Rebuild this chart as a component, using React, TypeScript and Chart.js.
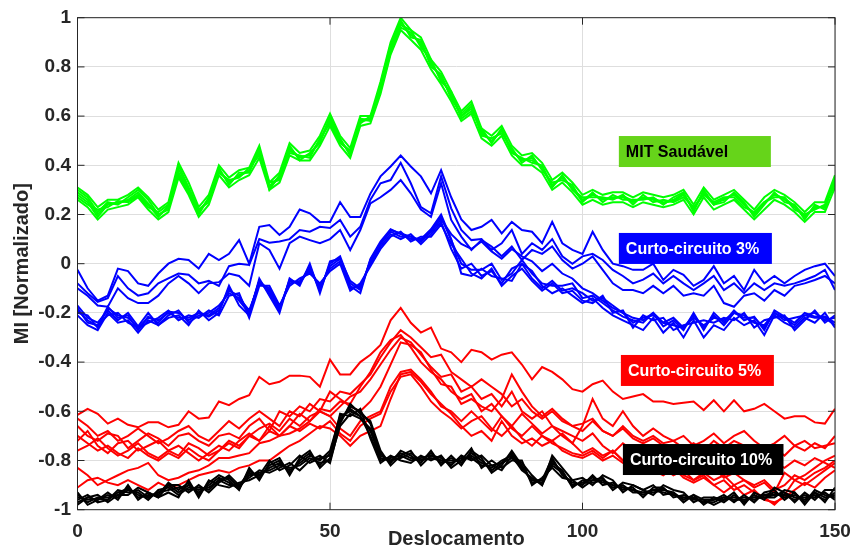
import React, { useEffect, useRef } from "react";
import { Chart, registerables } from "chart.js";

Chart.register(...registerables);

// Deslocamento (x) sample positions
const xValues = [
  0, 2, 4, 6, 8, 10, 12, 14, 16, 18,
  20, 22, 24, 26, 28, 30, 32, 34, 36, 38,
  40, 42, 44, 46, 48, 50, 52, 54, 56, 58,
  60, 62, 64, 66, 68, 70, 72, 74, 76, 78,
  80, 82, 84, 86, 88, 90, 92, 94, 96, 98,
  100, 102, 104, 106, 108, 110, 112, 114, 116, 118,
  120, 122, 124, 126, 128, 130, 132, 134, 136, 138,
  140, 142, 144, 146, 148, 150,
];

// MIT Saudável (green)
const greenA = [
  0.29, 0.26, 0.2, 0.245, 0.245, 0.26, 0.29, 0.245, 0.195, 0.23,
  0.385, 0.305, 0.215, 0.26, 0.38, 0.33, 0.36, 0.375, 0.46, 0.315,
  0.355, 0.47, 0.43, 0.445, 0.5, 0.59, 0.5, 0.45, 0.58, 0.585,
  0.72, 0.88, 0.98, 0.93, 0.9, 0.81, 0.76, 0.68, 0.6, 0.64,
  0.53, 0.5, 0.54, 0.46, 0.42, 0.43, 0.39, 0.32, 0.35, 0.31,
  0.26, 0.285, 0.26, 0.27, 0.27, 0.25, 0.27, 0.26, 0.245, 0.26,
  0.285, 0.22, 0.29, 0.245, 0.26, 0.285, 0.245, 0.2, 0.245, 0.285,
  0.26, 0.23, 0.19, 0.23, 0.23, 0.34,
];
const greenB = [
  0.27, 0.24, 0.22, 0.23, 0.255, 0.25, 0.275, 0.23, 0.21, 0.24,
  0.36, 0.29, 0.2, 0.27, 0.37, 0.34, 0.35, 0.39, 0.44, 0.33,
  0.34, 0.45, 0.44, 0.43, 0.51, 0.57, 0.49, 0.46, 0.57, 0.6,
  0.7, 0.86, 0.97, 0.95, 0.88, 0.83, 0.74, 0.7, 0.59, 0.62,
  0.55, 0.49, 0.55, 0.45, 0.43, 0.41, 0.4, 0.31, 0.36, 0.3,
  0.27, 0.27, 0.27, 0.26, 0.28, 0.24, 0.28, 0.25, 0.26, 0.25,
  0.27, 0.23, 0.28, 0.25, 0.27, 0.27, 0.23, 0.21, 0.25, 0.27,
  0.27, 0.22, 0.2, 0.22, 0.24, 0.32,
];
const greenC = [
  0.3, 0.27, 0.21, 0.25, 0.24, 0.27, 0.3, 0.26, 0.2, 0.22,
  0.4, 0.31, 0.22, 0.25, 0.39, 0.32, 0.37, 0.37, 0.47, 0.3,
  0.36, 0.48, 0.42, 0.45, 0.49, 0.6, 0.51, 0.44, 0.59, 0.58,
  0.73, 0.89, 0.99, 0.92, 0.91, 0.8, 0.77, 0.67, 0.61, 0.65,
  0.52, 0.51, 0.53, 0.47, 0.41, 0.44, 0.38, 0.33, 0.34, 0.32,
  0.25, 0.29, 0.25, 0.28, 0.26, 0.26, 0.26, 0.27, 0.24, 0.27,
  0.29, 0.21, 0.3, 0.24, 0.25, 0.29, 0.25, 0.19, 0.24, 0.29,
  0.25, 0.24, 0.18, 0.24, 0.22, 0.35,
];
const greenD = [
  0.28, 0.25, 0.19, 0.24, 0.25, 0.255, 0.28, 0.24, 0.19, 0.235,
  0.37, 0.3, 0.21, 0.265, 0.375, 0.335, 0.355, 0.38, 0.45, 0.31,
  0.35, 0.46, 0.435, 0.44, 0.5, 0.58, 0.495, 0.455, 0.585, 0.59,
  0.71, 0.87, 0.96, 0.94, 0.89, 0.82, 0.75, 0.69, 0.6, 0.63,
  0.54, 0.495, 0.545, 0.455, 0.425, 0.42, 0.395, 0.315, 0.355, 0.305,
  0.255, 0.28, 0.265, 0.265, 0.275, 0.255, 0.265, 0.265, 0.25, 0.255,
  0.28, 0.225, 0.285, 0.24, 0.265, 0.28, 0.24, 0.205, 0.25, 0.28,
  0.265, 0.235, 0.195, 0.225, 0.235, 0.33,
];
const greenE = [
  0.31, 0.28, 0.23, 0.26, 0.26, 0.28, 0.31, 0.27, 0.22, 0.25,
  0.41, 0.33, 0.23, 0.28, 0.4, 0.35, 0.38, 0.39, 0.48, 0.33,
  0.37, 0.49, 0.45, 0.46, 0.52, 0.61, 0.52, 0.47, 0.6, 0.6,
  0.74, 0.9, 1.0, 0.95, 0.92, 0.83, 0.78, 0.7, 0.62, 0.66,
  0.55, 0.52, 0.56, 0.48, 0.44, 0.45, 0.41, 0.34, 0.37, 0.33,
  0.28, 0.3, 0.28, 0.29, 0.29, 0.27, 0.29, 0.28, 0.27, 0.28,
  0.3, 0.24, 0.31, 0.26, 0.28, 0.3, 0.26, 0.22, 0.27, 0.3,
  0.28, 0.25, 0.21, 0.25, 0.25, 0.36,
];
const greenF = [
  0.26, 0.23, 0.18, 0.22, 0.23, 0.24, 0.27, 0.22, 0.18, 0.21,
  0.35, 0.28, 0.19, 0.24, 0.36, 0.31, 0.34, 0.36, 0.43, 0.3,
  0.33, 0.44, 0.42, 0.42, 0.48, 0.56, 0.48, 0.43, 0.56, 0.57,
  0.69, 0.85, 0.95, 0.91, 0.87, 0.79, 0.73, 0.66, 0.58, 0.61,
  0.51, 0.48, 0.52, 0.44, 0.4, 0.4, 0.37, 0.3, 0.33, 0.29,
  0.24, 0.26, 0.24, 0.25, 0.25, 0.23, 0.25, 0.24, 0.23, 0.24,
  0.26, 0.2, 0.27, 0.22, 0.24, 0.26, 0.22, 0.18, 0.22, 0.26,
  0.24, 0.21, 0.17, 0.21, 0.21, 0.31,
];

// Curto-circuito 3% (blue), upper bundle
const blueHighA = [
  -0.025, -0.1, -0.15, -0.13, -0.02, -0.03, -0.08, -0.09, -0.04, 0.0,
  0.02, 0.015, -0.02, 0.04, 0.015, 0.04, 0.096, 0.0, 0.15, 0.157,
  0.117, 0.15, 0.22, 0.205, 0.17, 0.17, 0.25, 0.19, 0.19, 0.285,
  0.355, 0.395, 0.44, 0.395, 0.355, 0.286, 0.38, 0.27, 0.18, 0.137,
  0.15, 0.178, 0.123, 0.17, 0.137, 0.13, 0.083, 0.17, 0.083, 0.056,
  0.04, 0.13, 0.056, 0.0, -0.01, -0.025, -0.025, 0.0, -0.066, -0.025,
  -0.045, -0.09, -0.066, -0.01, -0.08, -0.05, -0.107, -0.025, -0.08, -0.05,
  -0.08, -0.05, -0.025, -0.01, 0.0, -0.05,
];
const blueHighB = [
  -0.08, -0.12, -0.155, -0.14, -0.05, -0.1, -0.13, -0.12, -0.08, -0.06,
  -0.04, -0.045, -0.08, -0.07, -0.09, -0.01, 0.0, -0.005, 0.1, 0.085,
  0.09, 0.1, 0.137, 0.13, 0.15, 0.145, 0.178, 0.11, 0.15, 0.26,
  0.327, 0.34, 0.41, 0.327, 0.23, 0.205, 0.355, 0.225, 0.137, 0.096,
  0.1, 0.056, 0.083, 0.137, 0.04, 0.083, 0.056, 0.1, 0.03, 0.0,
  0.03, 0.04, 0.015, -0.025, -0.05, -0.08, -0.065, -0.04, -0.08, -0.05,
  -0.08, -0.107, -0.08, -0.05, -0.107, -0.08, -0.12, -0.08, -0.107, -0.08,
  -0.09, -0.08, -0.066, -0.05, -0.025, -0.107,
];
const blueHighC = [
  -0.1, -0.13, -0.17, -0.175, -0.1, -0.14, -0.16, -0.16, -0.13, -0.08,
  -0.05, -0.08, -0.12, -0.08, -0.075, -0.04, -0.05, -0.09, 0.083, 0.056,
  -0.02, 0.083, 0.11, 0.096, 0.083, 0.1, 0.137, 0.056, 0.137, 0.245,
  0.27, 0.3, 0.34, 0.286, 0.22, 0.19, 0.327, 0.178, 0.11, 0.056,
  0.096, 0.07, 0.03, 0.07, 0.015, 0.056, 0.04, 0.07, 0.015, -0.02,
  0.0, 0.03, -0.025, -0.08, -0.107, -0.107, -0.12, -0.09, -0.12, -0.09,
  -0.13, -0.12, -0.13, -0.09, -0.16, -0.175, -0.13, -0.12, -0.15, -0.107,
  -0.13, -0.09, -0.08, -0.066, -0.05, -0.08,
];
// Curto-circuito 3% (blue), lower bundle
const blueLowA = [
  -0.19, -0.23, -0.255, -0.175, -0.22, -0.21, -0.27, -0.215, -0.24, -0.195,
  -0.2, -0.23, -0.2, -0.215, -0.19, -0.1, -0.15, -0.2, -0.07, -0.12,
  -0.19, -0.065, -0.08, -0.01, -0.11, 0.0, 0.03, -0.08, -0.107, 0.015,
  0.083, 0.137, 0.123, 0.11, 0.096, 0.137, 0.19, 0.096, 0.0, -0.025,
  -0.025, 0.0, -0.066, -0.04, 0.015, -0.04, -0.08, -0.09, -0.09, -0.08,
  -0.14, -0.13, -0.16, -0.19, -0.215, -0.23, -0.24, -0.2, -0.255, -0.23,
  -0.27, -0.2, -0.27, -0.2, -0.24, -0.19, -0.23, -0.215, -0.27, -0.19,
  -0.215, -0.24, -0.2, -0.215, -0.215, -0.24,
];
const blueLowB = [
  -0.17, -0.22, -0.24, -0.19, -0.23, -0.2, -0.255, -0.2, -0.25, -0.21,
  -0.19, -0.24, -0.21, -0.2, -0.17, -0.12, -0.14, -0.19, -0.08, -0.1,
  -0.18, -0.08, -0.07, -0.03, -0.09, -0.02, 0.01, -0.1, -0.09, 0.0,
  0.07, 0.12, 0.1, 0.12, 0.08, 0.12, 0.17, 0.06, -0.02, 0.0,
  -0.05, -0.03, -0.08, -0.02, 0.0, -0.06, -0.1, -0.07, -0.11, -0.1,
  -0.12, -0.15, -0.14, -0.17, -0.2, -0.24, -0.22, -0.21, -0.24, -0.25,
  -0.26, -0.22, -0.25, -0.22, -0.23, -0.2, -0.21, -0.24, -0.25, -0.2,
  -0.23, -0.22, -0.21, -0.2, -0.23, -0.22,
];
const blueLowC = [
  -0.21, -0.25, -0.27, -0.2, -0.24, -0.23, -0.28, -0.23, -0.25, -0.22,
  -0.21, -0.25, -0.19, -0.23, -0.2, -0.09, -0.17, -0.21, -0.06, -0.13,
  -0.2, -0.06, -0.09, 0.0, -0.12, 0.01, 0.02, -0.09, -0.12, 0.02,
  0.09, 0.14, 0.12, 0.1, 0.1, 0.14, 0.2, 0.1, -0.04, -0.05,
  -0.02, -0.05, -0.06, -0.07, 0.0, -0.03, -0.09, -0.12, -0.1, -0.13,
  -0.16, -0.14, -0.18, -0.21, -0.23, -0.25, -0.27, -0.22, -0.28, -0.24,
  -0.3, -0.23, -0.3, -0.25, -0.27, -0.22, -0.25, -0.23, -0.29, -0.21,
  -0.24, -0.26, -0.22, -0.24, -0.2, -0.26,
];
const blueLowD = [
  -0.2, -0.21, -0.26, -0.18, -0.21, -0.22, -0.26, -0.22, -0.23, -0.2,
  -0.22, -0.22, -0.2, -0.21, -0.18, -0.11, -0.13, -0.2, -0.07, -0.11,
  -0.18, -0.07, -0.08, -0.02, -0.1, -0.01, 0.02, -0.07, -0.1, 0.01,
  0.08, 0.13, 0.11, 0.11, 0.09, 0.13, 0.18, 0.12, 0.08, 0.06,
  0.09, 0.05, 0.02, 0.06, 0.03, 0.01, -0.03, 0.0, -0.04, -0.06,
  -0.1, -0.12, -0.15, -0.18, -0.2, -0.22, -0.23, -0.2, -0.24, -0.22,
  -0.26, -0.21, -0.26, -0.21, -0.25, -0.2, -0.22, -0.22, -0.26, -0.2,
  -0.22, -0.25, -0.21, -0.22, -0.22, -0.25,
];
const blueLowE = [
  -0.18, -0.24, -0.25, -0.21, -0.2, -0.24, -0.26, -0.24, -0.22, -0.19,
  -0.23, -0.21, -0.22, -0.19, -0.21, -0.13, -0.12, -0.22, -0.09, -0.09,
  -0.17, -0.09, -0.06, -0.04, -0.08, -0.03, 0.0, -0.11, -0.08, -0.01,
  0.06, 0.11, 0.13, 0.09, 0.11, 0.11, 0.16, 0.08, 0.02, -0.04,
  -0.06, -0.02, -0.09, -0.05, -0.02, -0.07, -0.11, -0.08, -0.12, -0.11,
  -0.15, -0.16, -0.13, -0.2, -0.19, -0.26, -0.21, -0.23, -0.22, -0.27,
  -0.25, -0.24, -0.23, -0.24, -0.22, -0.23, -0.2, -0.26, -0.23, -0.22,
  -0.21, -0.27, -0.23, -0.19, -0.24, -0.21,
];

// Curto-circuito 5% (red)
const redA = [
  -0.615, -0.59, -0.61, -0.65, -0.63, -0.655, -0.665, -0.645, -0.645, -0.665,
  -0.655, -0.6, -0.63, -0.625, -0.56, -0.575, -0.55, -0.535, -0.46, -0.49,
  -0.48, -0.455, -0.455, -0.46, -0.5, -0.39, -0.45, -0.45, -0.4, -0.37,
  -0.33, -0.23, -0.18, -0.24, -0.28, -0.26, -0.345, -0.36, -0.4, -0.35,
  -0.36, -0.39, -0.37, -0.36, -0.41, -0.47, -0.42, -0.44, -0.47, -0.51,
  -0.52, -0.49, -0.475, -0.52, -0.55, -0.54, -0.53, -0.56, -0.56, -0.57,
  -0.565, -0.56, -0.595, -0.555, -0.6, -0.555, -0.6, -0.59, -0.57, -0.6,
  -0.63, -0.62, -0.62, -0.645, -0.65, -0.59,
];
const redB = [
  -0.66, -0.7, -0.72, -0.69, -0.7, -0.75, -0.72, -0.69, -0.71, -0.74,
  -0.7, -0.69, -0.72, -0.74, -0.7, -0.69, -0.71, -0.66, -0.63, -0.68,
  -0.6, -0.62, -0.58, -0.6, -0.55, -0.56, -0.52, -0.53, -0.49, -0.45,
  -0.38, -0.32, -0.27, -0.3, -0.34, -0.38, -0.37, -0.44, -0.47, -0.5,
  -0.47, -0.5, -0.53, -0.58, -0.55, -0.6, -0.63, -0.6, -0.64, -0.66,
  -0.65, -0.63, -0.68, -0.7, -0.66, -0.7, -0.72, -0.7, -0.73, -0.72,
  -0.75, -0.73, -0.76, -0.72, -0.75, -0.72, -0.74, -0.76, -0.77, -0.75,
  -0.78, -0.74, -0.76, -0.73, -0.75, -0.7,
];
const redC = [
  -0.72, -0.68, -0.74, -0.77, -0.73, -0.72, -0.76, -0.74, -0.72, -0.76,
  -0.78, -0.73, -0.75, -0.78, -0.76, -0.72, -0.74, -0.7, -0.67, -0.65,
  -0.68, -0.63, -0.66, -0.62, -0.6, -0.62, -0.58, -0.54, -0.52, -0.47,
  -0.41, -0.35, -0.3, -0.32, -0.37, -0.42, -0.46, -0.45, -0.52, -0.5,
  -0.55, -0.53, -0.58, -0.52, -0.6, -0.63, -0.6, -0.66, -0.68, -0.7,
  -0.72, -0.69, -0.74, -0.77, -0.73, -0.76, -0.8, -0.78, -0.82, -0.8,
  -0.83, -0.81, -0.85, -0.83, -0.87, -0.85, -0.88, -0.9, -0.88, -0.92,
  -0.9, -0.86, -0.88, -0.85, -0.83, -0.8,
];
const redD = [
  -0.76, -0.74, -0.71, -0.75, -0.78, -0.76, -0.73, -0.77, -0.79, -0.76,
  -0.74, -0.77, -0.8, -0.77, -0.74, -0.76, -0.72, -0.69, -0.72, -0.66,
  -0.7, -0.66, -0.61, -0.64, -0.59, -0.6, -0.56, -0.57, -0.5, -0.44,
  -0.36, -0.31, -0.29, -0.34, -0.4, -0.44, -0.47, -0.52, -0.55, -0.53,
  -0.6, -0.57, -0.62, -0.66, -0.61, -0.65, -0.69, -0.66, -0.7, -0.73,
  -0.77, -0.75, -0.78, -0.76, -0.8, -0.78, -0.82, -0.85, -0.83, -0.86,
  -0.84, -0.88, -0.86, -0.9, -0.93, -0.9, -0.94, -0.92, -0.96, -0.97,
  -0.95, -0.92, -0.89, -0.91, -0.87, -0.84,
];
const redE = [
  -0.63, -0.66, -0.7, -0.68, -0.72, -0.7, -0.67, -0.7, -0.73, -0.71,
  -0.68, -0.66, -0.7, -0.72, -0.68, -0.64, -0.67, -0.63, -0.6, -0.63,
  -0.66, -0.6, -0.62, -0.57, -0.6, -0.62, -0.67, -0.7, -0.64, -0.62,
  -0.6, -0.5, -0.44, -0.43, -0.47, -0.52, -0.58, -0.6, -0.64, -0.6,
  -0.64, -0.68, -0.62, -0.67, -0.7, -0.66, -0.7, -0.72, -0.69, -0.73,
  -0.66, -0.55, -0.63, -0.66, -0.6, -0.66, -0.7, -0.67, -0.7, -0.72,
  -0.7, -0.74, -0.72, -0.69, -0.73, -0.7, -0.68, -0.72, -0.75, -0.73,
  -0.7, -0.74, -0.72, -0.75, -0.74, -0.73,
];
const redF = [
  -0.7, -0.73, -0.76, -0.74, -0.77, -0.79, -0.75, -0.78, -0.8, -0.77,
  -0.79, -0.75, -0.78, -0.8, -0.76, -0.73, -0.75, -0.7, -0.72, -0.68,
  -0.7, -0.66, -0.68, -0.65, -0.67, -0.64, -0.69, -0.72, -0.66, -0.63,
  -0.61, -0.52, -0.46, -0.45, -0.5, -0.56, -0.6, -0.63, -0.67, -0.64,
  -0.62, -0.67, -0.7, -0.66, -0.71, -0.74, -0.7, -0.73, -0.75, -0.77,
  -0.78, -0.76, -0.79, -0.76, -0.8, -0.82, -0.8, -0.83, -0.85, -0.82,
  -0.86, -0.88, -0.85, -0.88, -0.86, -0.9, -0.88, -0.91, -0.89, -0.93,
  -0.85, -0.88, -0.86, -0.83, -0.8, -0.78,
];
const redG = [
  -0.83, -0.86, -0.9, -0.88, -0.86, -0.84, -0.83, -0.81, -0.86, -0.88,
  -0.87, -0.85, -0.84, -0.82, -0.79, -0.79, -0.78, -0.77, -0.73, -0.72,
  -0.7, -0.69, -0.67, -0.64, -0.6, -0.52, -0.55, -0.58, -0.6, -0.56,
  -0.5, -0.41, -0.32, -0.33, -0.36, -0.43, -0.49, -0.5, -0.57, -0.55,
  -0.58, -0.6, -0.55, -0.45, -0.52, -0.58, -0.62, -0.59, -0.63, -0.66,
  -0.68, -0.64, -0.68, -0.7, -0.67, -0.71, -0.73, -0.71, -0.74, -0.76,
  -0.74, -0.78, -0.76, -0.8, -0.78, -0.81, -0.79, -0.82, -0.84, -0.81,
  -0.83, -0.8, -0.82, -0.79, -0.81, -0.83,
];
const redH = [
  -0.91, -0.88, -0.87, -0.89, -0.9, -0.88, -0.9, -0.92, -0.89, -0.91,
  -0.9, -0.88, -0.86, -0.85, -0.84, -0.85, -0.83, -0.82, -0.8, -0.8,
  -0.77, -0.74, -0.72, -0.69, -0.66, -0.67, -0.7, -0.74, -0.7, -0.68,
  -0.66, -0.55, -0.45, -0.44, -0.48, -0.53, -0.57, -0.61, -0.66, -0.7,
  -0.68, -0.72, -0.64, -0.7, -0.73, -0.71, -0.74, -0.72, -0.76, -0.78,
  -0.79, -0.77, -0.8, -0.78, -0.81, -0.83, -0.8, -0.84, -0.86, -0.83,
  -0.87, -0.89, -0.87, -0.9, -0.88, -0.92, -0.9, -0.93, -0.95, -0.98,
  -0.94, -0.88, -0.9, -0.87, -0.84, -0.81,
];

// Curto-circuito 10% (black)
const blackA = [
  -0.95, -0.96, -0.955, -0.96, -0.93, -0.915, -0.94, -0.95, -0.93, -0.9,
  -0.93, -0.9, -0.93, -0.9, -0.87, -0.89, -0.915, -0.84, -0.87, -0.82,
  -0.8, -0.85, -0.8, -0.77, -0.82, -0.77, -0.63, -0.59, -0.62, -0.68,
  -0.79, -0.8, -0.77, -0.79, -0.8, -0.77, -0.81, -0.79, -0.81, -0.77,
  -0.8, -0.84, -0.81, -0.77, -0.83, -0.88, -0.89, -0.8, -0.85, -0.9,
  -0.89, -0.87, -0.89, -0.9, -0.91, -0.92, -0.94, -0.92, -0.915, -0.94,
  -0.95, -0.955, -0.97, -0.97, -0.95, -0.96, -0.95, -0.96, -0.94, -0.93,
  -0.95, -0.94, -0.96, -0.93, -0.95, -0.94,
];
const blackB = [
  -0.97, -0.95, -0.96, -0.94, -0.95, -0.92, -0.93, -0.96, -0.92, -0.91,
  -0.94, -0.91, -0.92, -0.91, -0.88, -0.9, -0.9, -0.85, -0.86, -0.83,
  -0.81, -0.84, -0.81, -0.78, -0.8, -0.76, -0.62, -0.6, -0.62, -0.7,
  -0.8, -0.79, -0.78, -0.8, -0.79, -0.78, -0.8, -0.8, -0.8, -0.78,
  -0.81, -0.83, -0.8, -0.78, -0.84, -0.87, -0.9, -0.81, -0.84, -0.91,
  -0.88, -0.88, -0.88, -0.91, -0.9, -0.93, -0.93, -0.93, -0.92, -0.93,
  -0.96, -0.94, -0.96, -0.98, -0.96, -0.95, -0.96, -0.95, -0.95, -0.94,
  -0.93, -0.95, -0.95, -0.94, -0.96, -0.93,
];
const blackC = [
  -0.94, -0.97, -0.95, -0.95, -0.94, -0.91, -0.95, -0.94, -0.94, -0.89,
  -0.92, -0.89, -0.94, -0.89, -0.86, -0.88, -0.92, -0.83, -0.88, -0.81,
  -0.79, -0.86, -0.79, -0.76, -0.83, -0.79, -0.64, -0.58, -0.6, -0.65,
  -0.77, -0.81, -0.76, -0.78, -0.81, -0.76, -0.82, -0.78, -0.82, -0.76,
  -0.79, -0.85, -0.82, -0.76, -0.82, -0.89, -0.88, -0.79, -0.86, -0.89,
  -0.9, -0.86, -0.9, -0.89, -0.92, -0.91, -0.95, -0.91, -0.91, -0.95,
  -0.94, -0.96, -0.96, -0.96, -0.94, -0.97, -0.94, -0.97, -0.93, -0.92,
  -0.96, -0.93, -0.97, -0.92, -0.94, -0.95,
];
const blackD = [
  -0.96, -0.94, -0.97, -0.96, -0.92, -0.93, -0.92, -0.95, -0.93, -0.92,
  -0.91, -0.92, -0.91, -0.92, -0.88, -0.87, -0.91, -0.86, -0.85, -0.84,
  -0.82, -0.83, -0.82, -0.79, -0.81, -0.8, -0.66, -0.61, -0.63, -0.67,
  -0.78, -0.8, -0.79, -0.77, -0.8, -0.79, -0.8, -0.81, -0.79, -0.79,
  -0.82, -0.82, -0.81, -0.79, -0.83, -0.88, -0.88, -0.82, -0.85, -0.9,
  -0.89, -0.89, -0.88, -0.9, -0.91, -0.92, -0.93, -0.92, -0.93, -0.94,
  -0.95, -0.95, -0.97, -0.96, -0.95, -0.96, -0.96, -0.95, -0.94, -0.94,
  -0.94, -0.96, -0.94, -0.95, -0.93, -0.96,
];
const blackE = [
  -0.98, -0.95, -0.94, -0.97, -0.94, -0.94, -0.91, -0.93, -0.95, -0.9,
  -0.9, -0.93, -0.9, -0.93, -0.89, -0.86, -0.9, -0.87, -0.84, -0.85,
  -0.83, -0.81, -0.84, -0.8, -0.78, -0.81, -0.65, -0.57, -0.61, -0.64,
  -0.76, -0.82, -0.78, -0.76, -0.82, -0.78, -0.79, -0.82, -0.78, -0.8,
  -0.78, -0.82, -0.84, -0.78, -0.81, -0.86, -0.9, -0.78, -0.83, -0.88,
  -0.91, -0.88, -0.87, -0.92, -0.89, -0.9, -0.92, -0.94, -0.9, -0.92,
  -0.93, -0.97, -0.95, -0.95, -0.97, -0.94, -0.97, -0.94, -0.96, -0.91,
  -0.93, -0.97, -0.93, -0.96, -0.92, -0.92,
];
const blackF = [
  -0.93, -0.98, -0.96, -0.93, -0.96, -0.9, -0.96, -0.93, -0.95, -0.93,
  -0.95, -0.88, -0.95, -0.88, -0.9, -0.91, -0.89, -0.88, -0.86, -0.8,
  -0.84, -0.82, -0.78, -0.81, -0.79, -0.78, -0.61, -0.62, -0.59, -0.71,
  -0.81, -0.78, -0.8, -0.81, -0.78, -0.8, -0.78, -0.83, -0.8, -0.75,
  -0.83, -0.8, -0.83, -0.8, -0.8, -0.9, -0.87, -0.83, -0.87, -0.88,
  -0.87, -0.9, -0.86, -0.88, -0.93, -0.9, -0.92, -0.9, -0.94, -0.93,
  -0.97, -0.94, -0.98, -0.95, -0.96, -0.93, -0.98, -0.93, -0.95, -0.95,
  -0.92, -0.93, -0.98, -0.93, -0.97, -0.91,
];

const groupLabels = ["MIT Saudável", "Curto-circuito 3%", "Curto-circuito 5%", "Curto-circuito 10%"];
const yTickValues = [-1, -0.8, -0.6, -0.4, -0.2, 0, 0.2, 0.4, 0.6, 0.8, 1];
const xTickValues = [0, 50, 100, 150];

const FONT = "'Liberation Sans', Arial, Helvetica, sans-serif";
const AXIS_COLOR = "#262626";

export default function App() {
  const ref = useRef<HTMLCanvasElement>(null);

  useEffect(() => {
    const canvas = ref.current;
    if (!canvas) return;

    const series = (values: number[], color: string) => ({
      data: xValues.map((x, i) => ({ x, y: values[i] })),
      borderColor: color,
      borderWidth: 2,
      pointRadius: 0,
      pointHoverRadius: 0,
      fill: false,
      tension: 0,
    });

    // black first -> drawn on top
    const datasets = [
      ...[blackA, blackB, blackC, blackD, blackE, blackF].map((v) => series(v, "#000000")),
      ...[redA, redB, redC, redD, redE, redF, redG, redH].map((v) => series(v, "#ff0000")),
      ...[blueHighA, blueHighB, blueHighC, blueLowA, blueLowB, blueLowC, blueLowD, blueLowE].map((v) =>
        series(v, "#0000ff")
      ),
      ...[greenA, greenB, greenC, greenD, greenE, greenF].map((v) => series(v, "#00ff00")),
    ];

    const framePlugin = {
      id: "frame",
      afterDraw(chart: any) {
        const { ctx, chartArea } = chart;
        const { left, right, top, bottom } = chartArea;
        const xs = chart.scales.x;
        const ys = chart.scales.y;
        ctx.save();
        ctx.strokeStyle = AXIS_COLOR;
        ctx.lineWidth = 1;
        ctx.strokeRect(left, top, right - left, bottom - top);
        const tl = 7;
        ctx.beginPath();
        for (const v of xTickValues) {
          const px = xs.getPixelForValue(v);
          ctx.moveTo(px, bottom);
          ctx.lineTo(px, bottom - tl);
          ctx.moveTo(px, top);
          ctx.lineTo(px, top + tl);
        }
        for (const v of yTickValues) {
          const py = ys.getPixelForValue(v);
          ctx.moveTo(left, py);
          ctx.lineTo(left + tl, py);
          ctx.moveTo(right, py);
          ctx.lineTo(right - tl, py);
        }
        ctx.stroke();
        ctx.restore();
      },
    };

    const boxes = [
      { text: groupLabels[0], x0: 107.2, x1: 137.3, y0: 0.519, y1: 0.393, bg: "#66d41a", fg: "#000000" },
      { text: groupLabels[1], x0: 107.2, x1: 137.5, y0: 0.125, y1: -0.001, bg: "#0000ff", fg: "#ffffff" },
      { text: groupLabels[2], x0: 107.6, x1: 137.9, y0: -0.371, y1: -0.497, bg: "#ff0000", fg: "#ffffff" },
      { text: groupLabels[3], x0: 108.0, x1: 139.8, y0: -0.733, y1: -0.859, bg: "#000000", fg: "#ffffff" },
    ];

    const labelPlugin = {
      id: "groupLabels",
      afterDatasetsDraw(chart: any) {
        const { ctx } = chart;
        const xs = chart.scales.x;
        const ys = chart.scales.y;
        ctx.save();
        ctx.font = `bold 16px ${FONT}`;
        ctx.textBaseline = "middle";
        ctx.textAlign = "left";
        for (const b of boxes) {
          const l = xs.getPixelForValue(b.x0);
          const r = xs.getPixelForValue(b.x1);
          const t = ys.getPixelForValue(b.y0);
          const btm = ys.getPixelForValue(b.y1);
          ctx.fillStyle = b.bg;
          ctx.fillRect(l, t, r - l, btm - t);
          ctx.fillStyle = b.fg;
          ctx.fillText(b.text, l + 7, (t + btm) / 2 + 1);
        }
        ctx.restore();
      },
    };

    const chart = new Chart(canvas, {
      type: "line",
      data: { datasets: datasets as any },
      options: {
        animation: false,
        responsive: false,
        maintainAspectRatio: false,
        events: [],
        layout: { padding: { top: 17.7, right: 18, left: 0, bottom: 0 } },
        plugins: {
          legend: { display: false },
          tooltip: { enabled: false },
        },
        scales: {
          x: {
            type: "linear",
            min: 0,
            max: 150,
            ticks: {
              stepSize: 50,
              maxRotation: 0,
              padding: 11,
              color: AXIS_COLOR,
              font: { family: FONT, size: 19, weight: "bold" },
            },
            grid: { color: "#dedede", lineWidth: 1, drawTicks: false },
            border: { display: false },
            title: {
              display: true,
              text: "Deslocamento",
              color: AXIS_COLOR,
              font: { family: FONT, size: 20, weight: "bold", lineHeight: 1 },
              padding: { top: 0, bottom: 0 },
            },
            afterFit: (s: any) => {
              s.height = 39.3;
              s.paddingLeft = 0;
              s.paddingRight = 0;
            },
          },
          y: {
            type: "linear",
            min: -1,
            max: 1,
            ticks: {
              stepSize: 0.2,
              padding: 6.5,
              color: AXIS_COLOR,
              font: { family: FONT, size: 19, weight: "bold" },
              callback: (v: any) => {
                const r = Math.round(Number(v) * 10) / 10;
                if (r === 0) return "0";
                return Number.isInteger(r) ? String(r) : r.toFixed(1);
              },
            },
            grid: { color: "#dedede", lineWidth: 1, drawTicks: false },
            border: { display: false },
            title: {
              display: true,
              text: "MI [Normalizado]",
              color: AXIS_COLOR,
              font: { family: FONT, size: 20, weight: "bold" },
              padding: { top: 10, bottom: 0 },
            },
            afterFit: (s: any) => {
              s.width = 77.5;
              s.paddingTop = 0;
              s.paddingBottom = 0;
            },
          },
        },
      } as any,
      plugins: [framePlugin, labelPlugin],
    });

    return () => chart.destroy();
  }, []);

  return (
    <div style={{ position: "fixed", left: 0, top: 0, width: 853, height: 549, background: "#ffffff" }}>
      <canvas ref={ref} width={853} height={549} style={{ display: "block", width: 853, height: 549 }} />
    </div>
  );
}
